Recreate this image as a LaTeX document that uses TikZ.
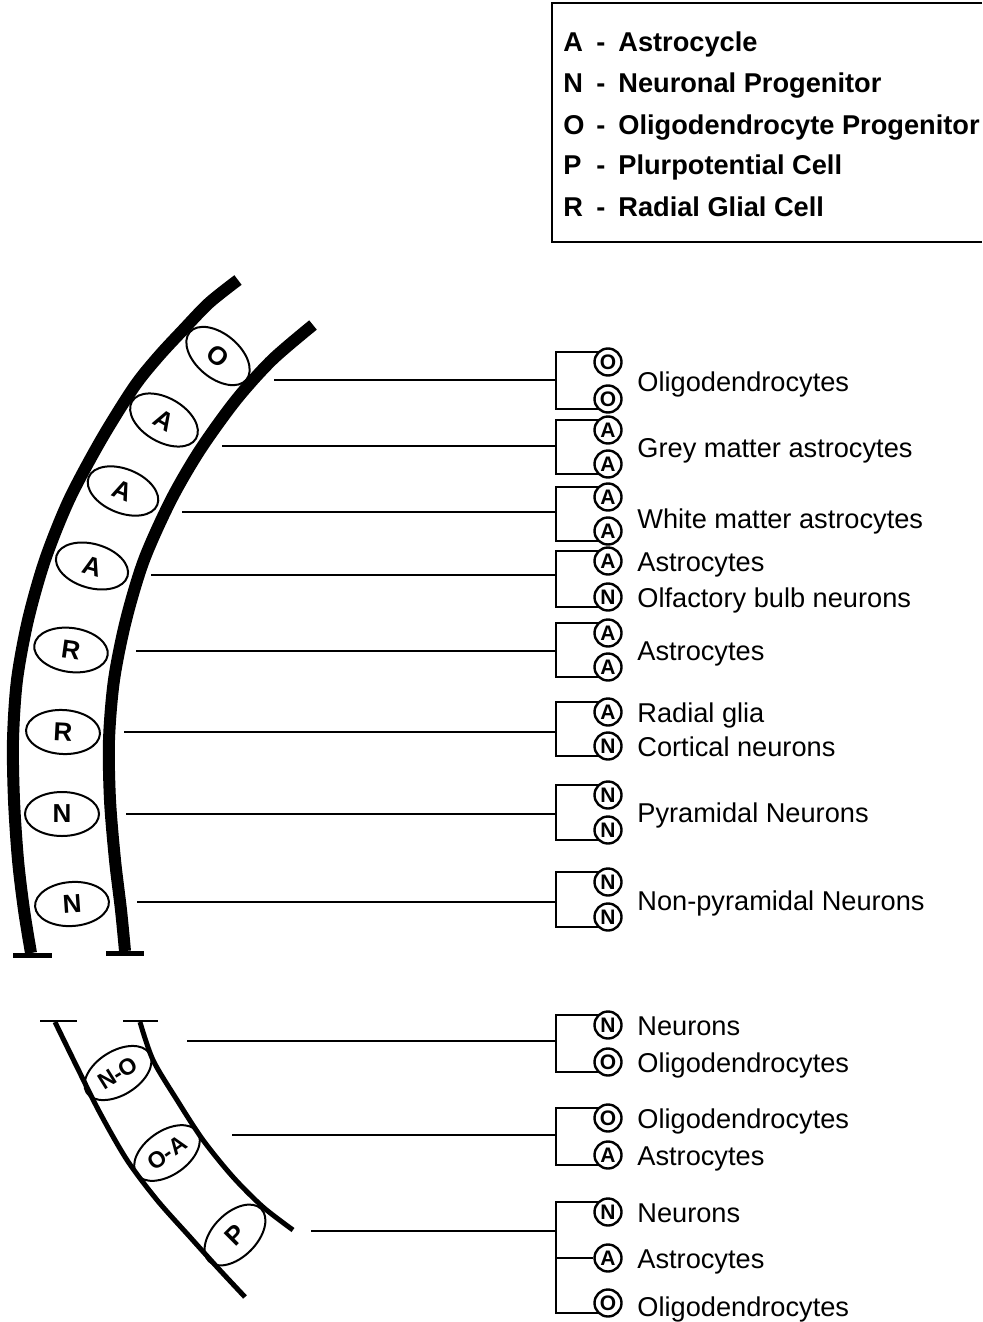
\documentclass[tikz,border=0pt]{standalone}
\usepackage{fontspec}
\setmainfont{Liberation Sans}
\usetikzlibrary{shapes.geometric}

\tikzset{
  wall/.style={line width=6pt},
  thinwall/.style={line width=2.5pt},
  cell/.style={ellipse, draw, line width=1pt, minimum width=37pt, minimum height=22pt, inner sep=0pt, font=\fontsize{13}{13}\selectfont\bfseries},
  fate/.style={circle, draw, line width=1.2pt, minimum size=13.5pt, inner sep=0pt, font=\fontsize{10.5}{10.5}\selectfont\bfseries},
  lbl/.style={anchor=base west, inner sep=0pt, font=\fontsize{13.6}{14}\selectfont},
  key/.style={anchor=base west, inner sep=0pt, font=\fontsize{13.6}{14}\selectfont\bfseries},
  link/.style={line width=1pt},
}

\begin{document}
\begin{tikzpicture}[x=0.5pt, y=-0.5pt]
\useasboundingbox (0,0) rectangle (982,1322);

% legend box
\draw[line width=1pt] (982,3) -| (552,242) -- (982,242);
\node[key] (ka) at (563,52) {A};
\node[key, anchor=base] (da) at (601,52) {-};
\node[key] (ta) at (618,52) {Astrocycle};
\node[key] (kn) at (563,93) {N};
\node[key, anchor=base] (dn) at (601,93) {-};
\node[key] (tn) at (618,93) {Neuronal Progenitor};
\node[key] (ko) at (563,134) {O};
\node[key, anchor=base] (do) at (601,134) {-};
\node[key] (to) at (618,134) {Oligodendrocyte Progenitor};
\node[key] (kp) at (563,175) {P};
\node[key, anchor=base] (dp) at (601,175) {-};
\node[key] (tp) at (618,175) {Plurpotential Cell};
\node[key] (kr) at (563,216) {R};
\node[key, anchor=base] (dr) at (601,216) {-};
\node[key] (tr) at (618,216) {Radial Glial Cell};

% upper wall
\draw[wall] plot[smooth] coordinates {(238,280) (209,303) (183,330) (158,357) (134,387) (101,440) (69,500) (45,560) (28,620) (17,680) (13,740) (14,800) (18,860) (24,910) (31,953)};
\draw[wall] plot[smooth] coordinates {(313,325) (272,360) (236,400) (200,450) (171,500) (144,560) (126,620) (114,680) (109,740) (110,800) (115,860) (121,910) (125,951)};
\draw[line width=2.5pt] (13,955) -- (52,955);
\draw[line width=2.5pt] (106,953) -- (144,953);

% lower wall
\draw[thinwall] plot[smooth] coordinates {(55,1022) (77,1067) (100,1113) (127,1160) (157,1200) (190,1237) (217,1267) (245,1297)};
\draw[thinwall] plot[smooth] coordinates {(140,1022) (153,1060) (177,1100) (203,1140) (233,1177) (263,1207) (293,1230)};
\draw[line width=1.2pt] (40,1021) -- (77,1021);
\draw[line width=1.2pt] (123,1021) -- (158,1021);

% progenitor cells
\node[cell, rotate=-40] (o1) at (218,356) {O};
\node[cell, rotate=-30] (a1) at (164,420) {A};
\node[cell, rotate=-22] (a2) at (123,491) {A};
\node[cell, rotate=-16] (a3) at (92,566) {A};
\node[cell, rotate=-8] (r1) at (71,650) {R};
\node[cell, rotate=-3] (r2) at (63,732) {R};
\node[cell] (n1) at (62,814) {N};
\node[cell, rotate=4] (n2) at (72,904) {N};
\node[cell, rotate=32, font=\fontsize{11.5}{11.5}\selectfont\bfseries] (no) at (118,1073) {N-O};
\node[cell, rotate=35, font=\fontsize{11.5}{11.5}\selectfont\bfseries] (oa) at (167,1153) {O-A};
\node[cell, rotate=45] (p) at (235,1235) {P};

% lines to the bracket
\coordinate (s1) at (274,380);   \coordinate (b1) at (556,380);
\coordinate (s2) at (222,446);   \coordinate (b2) at (556,446);
\coordinate (s3) at (182,512);   \coordinate (b3) at (556,512);
\coordinate (s4) at (151,575);   \coordinate (b4) at (556,575);
\coordinate (s5) at (136,651);   \coordinate (b5) at (556,651);
\coordinate (s6) at (124,732);   \coordinate (b6) at (556,732);
\coordinate (s7) at (126,814);   \coordinate (b7) at (556,814);
\coordinate (s8) at (137,902);   \coordinate (b8) at (556,902);
\coordinate (s9) at (187,1041);  \coordinate (b9) at (556,1041);
\coordinate (s10) at (232,1135); \coordinate (b10) at (556,1135);
\coordinate (s11) at (311,1231); \coordinate (b11) at (556,1231);

% daughter cells
\node[fate] (f1a) at (608,362) {O};
\node[fate] (f1b) at (608,399) {O};
\node[fate] (f2a) at (608,430) {A};
\node[fate] (f2b) at (608,464) {A};
\node[fate] (f3a) at (608,497) {A};
\node[fate] (f3b) at (608,531) {A};
\node[fate] (f4a) at (608,561) {A};
\node[fate] (f4b) at (608,597) {N};
\node[fate] (f5a) at (608,633) {A};
\node[fate] (f5b) at (608,667) {A};
\node[fate] (f6a) at (608,712) {A};
\node[fate] (f6b) at (608,746) {N};
\node[fate] (f7a) at (608,795) {N};
\node[fate] (f7b) at (608,830) {N};
\node[fate] (f8a) at (608,882) {N};
\node[fate] (f8b) at (608,917) {N};
\node[fate] (f9a) at (608,1025) {N};
\node[fate] (f9b) at (608,1062) {O};
\node[fate] (f10a) at (608,1118) {O};
\node[fate] (f10b) at (608,1155) {A};
\node[fate] (f11a) at (608,1212) {N};
\node[fate] (f11b) at (608,1258) {A};
\node[fate] (f11c) at (608,1303) {O};

% labels
\node[lbl] (l1) at (637,391) {Oligodendrocytes};
\node[lbl] (l2) at (637,457) {Grey matter astrocytes};
\node[lbl] (l3) at (637,528) {White matter astrocytes};
\node[lbl] (l4a) at (637,571) {Astrocytes};
\node[lbl] (l4b) at (637,607) {Olfactory bulb neurons};
\node[lbl] (l5) at (637,660) {Astrocytes};
\node[lbl] (l6a) at (637,722) {Radial glia};
\node[lbl] (l6b) at (637,756) {Cortical neurons};
\node[lbl] (l7) at (637,822) {Pyramidal Neurons};
\node[lbl] (l8) at (637,910) {Non-pyramidal Neurons};
\node[lbl] (l9a) at (637,1035) {Neurons};
\node[lbl] (l9b) at (637,1072) {Oligodendrocytes};
\node[lbl] (l10a) at (637,1128) {Oligodendrocytes};
\node[lbl] (l10b) at (637,1165) {Astrocytes};
\node[lbl] (l11a) at (637,1222) {Neurons};
\node[lbl] (l11b) at (637,1268) {Astrocytes};
\node[lbl] (l11c) at (637,1316) {Oligodendrocytes};

% connectors and brackets
\draw[link] (s1) -- (b1);   \draw[link] (f1a.135) -| (b1) |- (f1b.225);
\draw[link] (s2) -- (b2);   \draw[link] (f2a.135) -| (b2) |- (f2b.225);
\draw[link] (s3) -- (b3);   \draw[link] (f3a.135) -| (b3) |- (f3b.225);
\draw[link] (s4) -- (b4);   \draw[link] (f4a.135) -| (b4) |- (f4b.225);
\draw[link] (s5) -- (b5);   \draw[link] (f5a.135) -| (b5) |- (f5b.225);
\draw[link] (s6) -- (b6);   \draw[link] (f6a.135) -| (b6) |- (f6b.225);
\draw[link] (s7) -- (b7);   \draw[link] (f7a.135) -| (b7) |- (f7b.225);
\draw[link] (s8) -- (b8);   \draw[link] (f8a.135) -| (b8) |- (f8b.225);
\draw[link] (s9) -- (b9);   \draw[link] (f9a.135) -| (b9) |- (f9b.225);
\draw[link] (s10) -- (b10); \draw[link] (f10a.135) -| (b10) |- (f10b.225);
\draw[link] (s11) -- (b11); \draw[link] (f11a.135) -| (b11) |- (f11c.225);
\draw[link] (f11b.west) -- (f11b.west -| b11);
\end{tikzpicture}
\end{document}
